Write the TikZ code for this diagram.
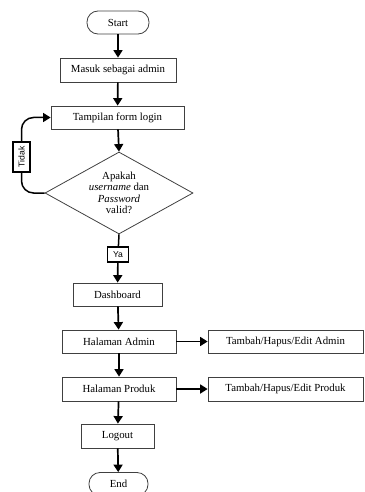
\documentclass[tikz,border=0pt]{standalone}
\usepackage{fontspec}
\setmainfont{Liberation Serif}
\newfontfamily\labsans{Liberation Sans}
\usetikzlibrary{shapes.geometric,arrows.meta}
\begin{document}
\begin{tikzpicture}[x=1pt,y=-1pt,
  font=\fontsize{10.8}{11.4}\selectfont,
  box/.style={draw=black!75, line width=0.8pt, rectangle, inner sep=0pt, minimum height=23pt},
  term/.style={box, rounded corners=11pt},
  tag/.style={draw=black, line width=1.2pt, rectangle, inner sep=0pt, font=\labsans\fontsize{8.6}{9}\selectfont},
  arr/.style={line width=1.7pt, -{Triangle[length=7.5pt,width=9pt]}},
  ln/.style={line width=1.5pt}
]
\clip (0,0) rectangle (364,492);
\node[term, minimum width=62pt] (start) at (118,22.5) {Start};
\node[box, minimum width=116pt, minimum height=24pt] (masuk) at (118,70) {Masuk sebagai admin};
\node[box, minimum width=133pt] (login) at (117.5,117.5) {Tampilan form login};
\node[draw=black!75, line width=0.8pt, diamond, inner sep=0pt, minimum width=148pt, minimum height=82pt] (dec) at (119,193) {};
\node[align=center] (dectext) at (dec.center) {Apakah\\\textit{username} dan\\\textit{Password}\\valid?};
\node[tag, rotate=90, minimum width=30pt, minimum height=17pt] (tidak) at (21.5,157) {Tidak};
\node[tag, minimum width=21pt, minimum height=15pt] (ya) at (118,254.5) {Ya};
\node[box, minimum width=89pt] (dash) at (117.5,294.5) {Dashboard};
\node[box, minimum width=114pt] (hadmin) at (119,341.5) {Halaman Admin};
\node[box, minimum width=155pt] (tadmin) at (285.5,341.5) {Tambah/Hapus/Edit Admin};
\node[box, minimum width=114pt, minimum height=24pt] (hprod) at (119,389) {Halaman Produk};
\node[box, minimum width=155pt, minimum height=24pt] (tprod) at (285.5,389) {Tambah/Hapus/Edit Produk};
\node[box, minimum width=73pt, minimum height=24pt] (logout) at (117.5,436) {Logout};
\node[term, minimum width=59pt] (end) at (118.5,484) {End};

\draw[arr] (start) -- (masuk);
\draw[arr] (masuk) -- (login);
\draw[arr] (login) -- (dec.north);
\draw[ln] (dec.south) -- (ya);
\draw[arr] (ya) -- (dash);
\draw[arr] (dash) -- (hadmin);
\draw[arr] (hadmin) -- (hprod);
\draw[arr] (hprod) -- (logout);
\draw[arr] (logout) -- (end);
\draw[arr] (hadmin) -- (tadmin);
\draw[arr] (hprod) -- (tprod);
\draw[ln, rounded corners=12pt] (dec.west) -| (tidak.west);
\draw[arr, line width=1.5pt, rounded corners=12pt] (tidak.east) |- (login.west);
\end{tikzpicture}
\end{document}
